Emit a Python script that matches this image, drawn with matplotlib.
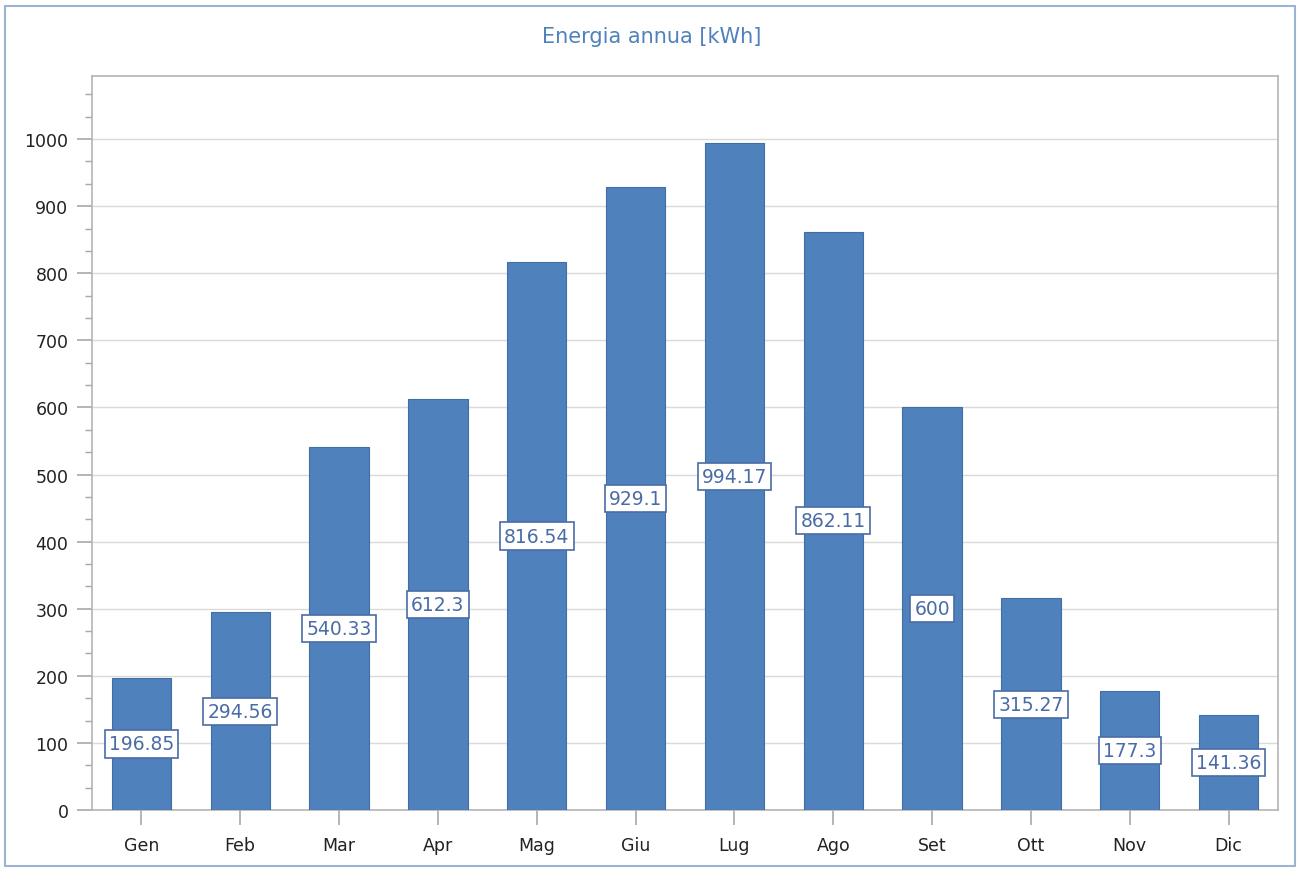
import matplotlib
matplotlib.use("Agg")
import matplotlib.pyplot as plt
from matplotlib.patches import Rectangle
from matplotlib.ticker import MultipleLocator

months = ["Gen", "Feb", "Mar", "Apr", "Mag", "Giu", "Lug", "Ago", "Set", "Ott", "Nov", "Dic"]
values = [196.85, 294.56, 540.33, 612.3, 816.54, 929.1, 994.17, 862.11, 600, 315.27, 177.3, 141.36]
labels = ["196.85", "294.56", "540.33", "612.3", "816.54", "929.1", "994.17", "862.11", "600", "315.27", "177.3", "141.36"]
title = "Energia annua [kWh]"

plt.rcParams['font.family'] = ['DejaVu Sans']
W, H = 1303, 870
fig = plt.figure(figsize=(W / 100, H / 100), dpi=100)
fig.patch.set_facecolor("white")

# outer border
fig.patches.append(Rectangle((5 / W, 1 - 867 / H), (1295 - 5) / W, (867 - 7) / H,
                             transform=fig.transFigure, fill=False,
                             edgecolor="#9db3d4", linewidth=1.5))

left, right, top, bottom = 92, 1278, 77, 811
ax = fig.add_axes([left / W, 1 - bottom / H, (right - left) / W, (bottom - top) / H])

x = list(range(len(months)))
ax.bar(x, values, width=0.6, color="#4f81bd", edgecolor="#3f6ea8", linewidth=0.8, zorder=3)

for xi, v, lab in zip(x, values, labels):
    ax.text(xi, v / 2, lab, ha="center", va="center", fontsize=13.5, color="#4a6ca6",
            zorder=5,
            bbox=dict(boxstyle="square,pad=0.22", facecolor="white",
                      edgecolor="#4a6ca6", linewidth=1.2))

ax.set_xlim(-0.5, len(months) - 0.5)
ax.set_ylim(0, 1094)
ax.yaxis.set_major_locator(MultipleLocator(100))
ax.yaxis.set_minor_locator(MultipleLocator(100 / 3))
ax.set_xticks(x)
ax.set_xticklabels(months)

ax.grid(axis="y", which="major", color="#dadada", linewidth=1.0, zorder=0)
for s in ax.spines.values():
    s.set_color("#b4b4b4")
    s.set_linewidth(1.2)

ax.tick_params(axis="both", which="major", colors="#a8a8a8", labelcolor="#222222",
               labelsize=12.5, length=11, width=1.2)
ax.tick_params(axis="y", which="minor", colors="#a8a8a8", length=5, width=1.0)
ax.tick_params(axis="x", pad=8)
ax.tick_params(axis="y", pad=6)

fig.text(0.5, 1 - 37 / H, title, ha="center", va="center",
         fontsize=15, color="#4f81bd")

fig.savefig("out.png", dpi=100)
